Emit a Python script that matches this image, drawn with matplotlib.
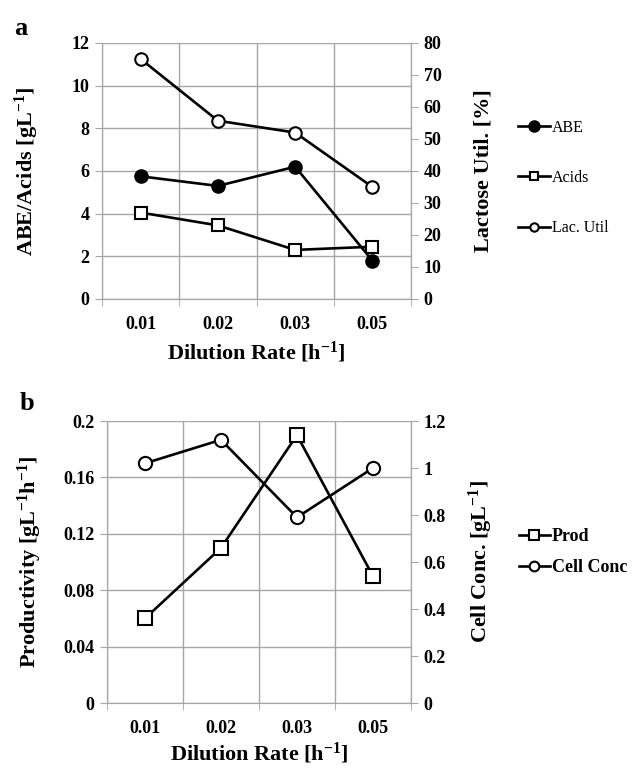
import matplotlib
matplotlib.use("Agg")
import matplotlib.pyplot as plt
from matplotlib.lines import Line2D

plt.rcParams["font.family"] = ["Liberation Serif", "DejaVu Serif"]
plt.rcParams["mathtext.fontset"] = "custom"
plt.rcParams["mathtext.rm"] = "Liberation Serif"
plt.rcParams["mathtext.bf"] = "Liberation Serif:bold"
plt.rcParams["mathtext.default"] = "bf"

# data
rates = ["0.01", "0.02", "0.03", "0.05"]
abe = [5.75, 5.3, 6.2, 1.8]
acids = [4.05, 3.45, 2.3, 2.45]
lac_util = [75.0, 55.7, 52.0, 35.0]
prod = [0.06, 0.11, 0.19, 0.09]
cell_conc = [1.02, 1.12, 0.79, 1.0]

GRID = "#a6a6a6"
LW = 1.9


def style_axes(ax, ax2, yticks, y2ticks, ylim, y2lim):
    x = range(len(rates))
    ax.set_xlim(-0.5, len(rates) - 0.5)
    ax.set_ylim(*ylim)
    ax2.set_ylim(*y2lim)
    ax.set_yticks(yticks)
    ax2.set_yticks(y2ticks)
    ax.set_xticks(list(x))
    ax.set_xticklabels(rates)
    ax.set_xticks([i - 0.5 for i in range(len(rates) + 1)], minor=True)
    ax.tick_params(axis="x", which="major", length=0, pad=12, labelsize=13)
    ax.tick_params(axis="x", which="minor", length=5, color=GRID, direction="out")
    ax.tick_params(axis="y", length=5, color=GRID, direction="out", labelsize=13, pad=4)
    ax2.tick_params(axis="y", length=5, color=GRID, direction="out", labelsize=13, pad=4)
    ax.grid(True, axis="y", color=GRID, lw=1)
    ax.grid(True, axis="x", which="minor", color=GRID, lw=1)
    for a in (ax, ax2):
        for s in a.spines.values():
            s.set_color(GRID)
        a.spines["top"].set_visible(False)
    for lab in ax.get_xticklabels() + ax.get_yticklabels() + ax2.get_yticklabels():
        lab.set_fontweight("bold")


fig = plt.figure(figsize=(6.44, 7.7), dpi=100)

# ---- panel a ----
axa = fig.add_axes([0.1584, 0.6117, 0.4798, 0.3325])
axa2 = axa.twinx()
style_axes(axa, axa2, range(0, 13, 2), range(0, 81, 10), (0, 12), (0, 80))
xs = range(len(rates))
axa.plot(xs, abe, color="black", lw=LW, marker="o", ms=9.5, mfc="black", mec="black", zorder=3)
axa.plot(xs, acids, color="black", lw=LW, marker="s", ms=8, mfc="white", mec="black", mew=1.5, zorder=3)
axa2.plot(xs, lac_util, color="black", lw=LW, marker="o", ms=9, mfc="white", mec="black", mew=1.5, zorder=3)
axa.set_xlabel("Dilution Rate [h$^{-1}$]", fontsize=16, fontweight="bold", labelpad=5)
axa.set_ylabel("ABE/Acids [gL$^{-1}$]", fontsize=16, fontweight="bold", labelpad=22)
axa2.set_ylabel("Lactose Util. [%]", fontsize=16, fontweight="bold", labelpad=23)

handles_a = [
    Line2D([], [], color="black", lw=LW, marker="o", ms=8, mfc="black"),
    Line2D([], [], color="black", lw=LW, marker="s", ms=6, mfc="white", mew=1.5),
    Line2D([], [], color="black", lw=LW, marker="o", ms=6, mfc="white", mew=1.5),
]
fig.legend(handles_a, ["ABE", "Acids", "Lac. Util"], loc="upper left",
           bbox_to_anchor=(0.792, 0.855), frameon=False, fontsize=11.5,
           handlelength=2.0, handletextpad=0.1, labelspacing=2.15, borderpad=0)

# ---- panel b ----
axb = fig.add_axes([0.1661, 0.0870, 0.4720, 0.3662])
axb2 = axb.twinx()
style_axes(axb, axb2, [0, 0.04, 0.08, 0.12, 0.16, 0.2], [0, 0.2, 0.4, 0.6, 0.8, 1.0, 1.2],
           (0, 0.2), (0, 1.2))
axb.set_yticklabels(["0", "0.04", "0.08", "0.12", "0.16", "0.2"])
axb2.set_yticklabels(["0", "0.2", "0.4", "0.6", "0.8", "1", "1.2"])
for lab in axb.get_yticklabels() + axb2.get_yticklabels():
    lab.set_fontweight("bold")
axb.plot(xs, prod, color="black", lw=LW, marker="s", ms=10, mfc="white", mec="black", mew=1.5, zorder=3)
axb2.plot(xs, cell_conc, color="black", lw=LW, marker="o", ms=9.5, mfc="white", mec="black", mew=1.5, zorder=3)
axb.set_xlabel("Dilution Rate [h$^{-1}$]", fontsize=16, fontweight="bold", labelpad=3)
axb.set_ylabel("Productivity [gL$^{-1}$h$^{-1}$]", fontsize=16, fontweight="bold", labelpad=14)
axb2.set_ylabel("Cell Conc. [gL$^{-1}$]", fontsize=16, fontweight="bold", labelpad=15)

handles_b = [
    Line2D([], [], color="black", lw=LW, marker="s", ms=7, mfc="white", mew=1.5),
    Line2D([], [], color="black", lw=LW, marker="o", ms=7, mfc="white", mew=1.5),
]
fig.legend(handles_b, ["Prod", "Cell Conc"], loc="upper left",
           bbox_to_anchor=(0.792, 0.326), frameon=False,
           prop={"weight": "bold", "size": 13},
           handlelength=1.7, handletextpad=0.1, labelspacing=0.8, borderpad=0)

fig.text(0.022, 0.955, "a", fontsize=19, fontweight="bold")
fig.text(0.030, 0.467, "b", fontsize=19, fontweight="bold")

fig.savefig("out.png", dpi=100)
